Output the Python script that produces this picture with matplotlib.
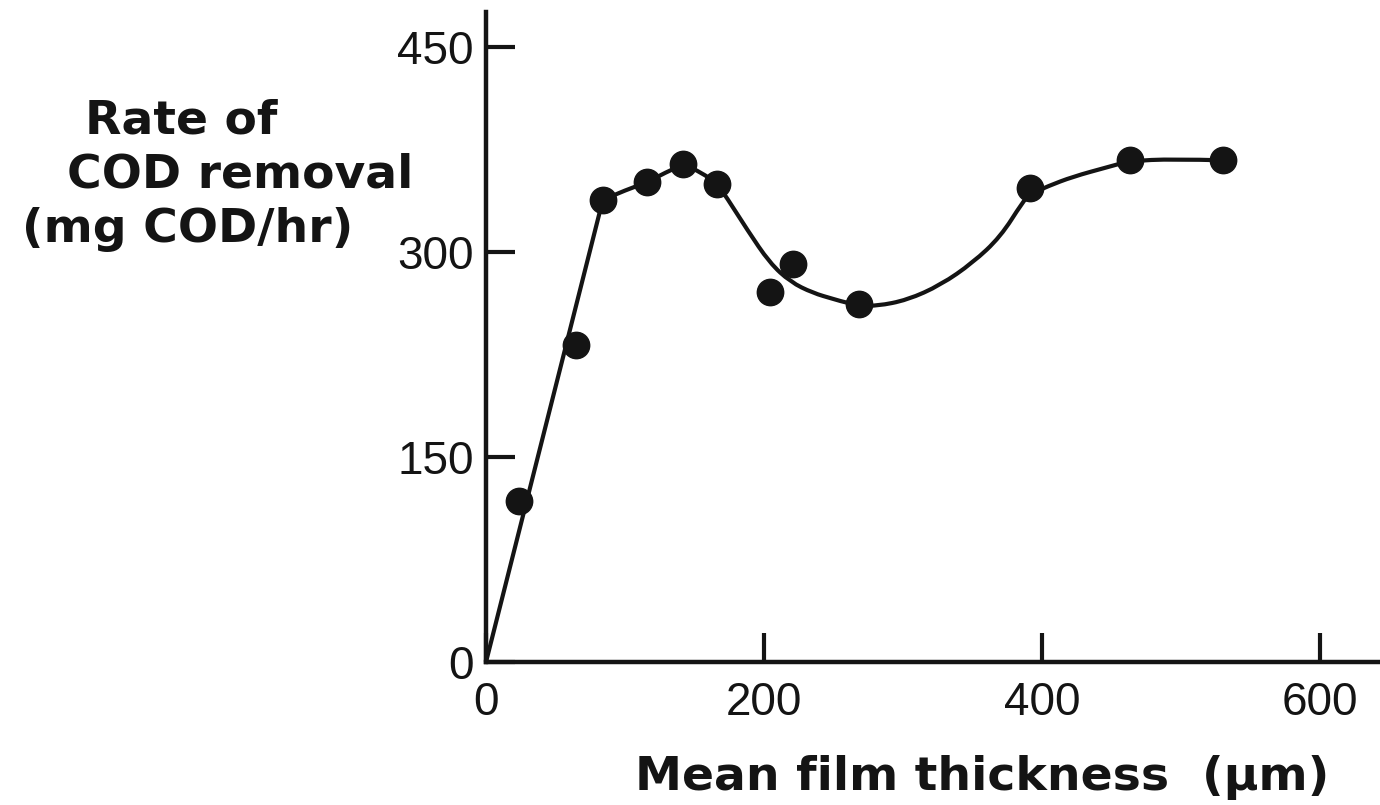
import matplotlib
matplotlib.use("Agg")
import matplotlib.pyplot as plt
from matplotlib.path import Path
from matplotlib.patches import PathPatch

# measured points: mean film thickness (um) vs COD removal rate (mg COD/hr)
thickness = [24, 65, 84, 116, 142, 166, 204, 221, 268, 391, 463, 530]
cod_rate = [118, 232, 338, 351, 364, 350, 271, 291, 262, 347, 367, 367]

# hand-drawn trend line through the data
trend_x = [0, 84, 100, 116, 129, 142, 155, 166, 173, 188, 204, 219, 235, 250,
           260, 270, 281, 303, 327, 350, 370, 386, 391, 404, 422, 447, 463,
           494, 530]
trend_y = [0, 338, 345, 351, 358, 364, 358, 350, 340, 316, 292, 278, 270, 265.5,
           262.6, 261, 260.4, 264.8, 275.8, 292, 311, 336.5, 342, 348, 355, 362,
           366.5, 368, 367]

x_ticks = [0, 200, 400, 600]
y_ticks = [0, 150, 300, 450]

# axis title lines with their centre / baseline in figure pixels
ylabel_lines = [("Rate of", 181, 133),
                ("COD removal", 240, 187),
                ("(mg COD/hr)", 188, 242)]
xlabel_lines = [("Mean film thickness  (µm)", 982, 790)]

ink = "#141414"
W, H = 1380, 805


def smooth_path(xs, ys):
    # straight first segment, then quadratic joins through segment midpoints
    pts = list(zip(xs, ys))
    verts = [pts[0], pts[1]]
    codes = [Path.MOVETO, Path.LINETO]
    mid = ((pts[1][0] + pts[2][0]) / 2, (pts[1][1] + pts[2][1]) / 2)
    verts.append(mid)
    codes.append(Path.LINETO)
    for i in range(2, len(pts) - 2):
        nxt = ((pts[i][0] + pts[i + 1][0]) / 2, (pts[i][1] + pts[i + 1][1]) / 2)
        verts += [pts[i], nxt]
        codes += [Path.CURVE3, Path.CURVE3]
    verts += [pts[-2], pts[-1]]
    codes += [Path.CURVE3, Path.CURVE3]
    return Path(verts, codes)


fig = plt.figure(figsize=(W / 100, H / 100), dpi=100)
ax = fig.add_axes([486 / W, 1 - 662 / H, (W - 486) / W, 650 / H])

ax.add_patch(PathPatch(smooth_path(trend_x, trend_y), facecolor="none",
                       edgecolor=ink, lw=3, joinstyle="round",
                       capstyle="round"))
ax.plot(thickness, cod_rate, "o", ms=19, color=ink, mec=ink)

ax.set_xlim(0, 643)
ax.set_ylim(0, 475.5)

for side in ("top", "right"):
    ax.spines[side].set_visible(False)
for side in ("left", "bottom"):
    ax.spines[side].set_linewidth(3.2)
    ax.spines[side].set_color(ink)

ax.set_xticks(x_ticks)
ax.set_yticks(y_ticks)
ax.set_xticklabels([str(v) for v in x_ticks])
ax.set_yticklabels([str(v) for v in y_ticks])
ax.tick_params(direction="in", length=21, width=3, color=ink,
               labelcolor=ink, labelsize=33)
ax.tick_params(axis="x", pad=14)
ax.tick_params(axis="y", pad=9)
for lab in ax.get_xticklabels() + ax.get_yticklabels():
    lab.set_family("Liberation Sans")

label_kw = dict(family="DejaVu Sans", weight="bold", size=34, color=ink,
                va="baseline", ha="center")
for text, px, py in ylabel_lines + xlabel_lines:
    fig.text(px / W, 1 - py / H, text, **label_kw)

fig.savefig("out.png", dpi=100, facecolor="white")
